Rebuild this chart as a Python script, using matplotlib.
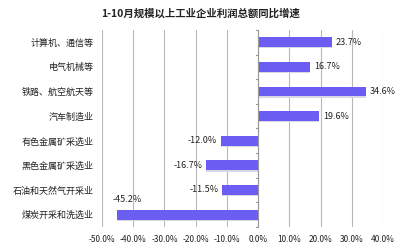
import numpy as np
import matplotlib
matplotlib.use('Agg')
import matplotlib.pyplot as plt

plt.rcParams['font.family'] = ['Noto Sans CJK SC', 'DejaVu Sans']

TITLE = '1-10月规模以上工业企业利润总额同比增速'
CATEGORIES = ['计算机、通信等', '电气机械等', '铁路、航空航天等', '汽车制造业',
              '有色金属矿采选业', '黑色金属矿采选业', '石油和天然气开采业', '煤炭开采和洗选业']
GROWTH = [23.7, 16.7, 34.6, 19.6, -12.0, -16.7, -11.5, -45.2]
XTICKS = [-50, -40, -30, -20, -10, 0, 10, 20, 30, 40]

BAR_COLOR = '#6b5cf2'

fig = plt.figure(figsize=(4.0, 2.48), dpi=100)
ax = fig.add_axes([0.255, 0.085, 0.7025, 0.794])

y = np.arange(len(CATEGORIES))
# faint shadow under bars
ax.barh(y + 0.04, GROWTH, height=0.42, color='#d8d8e4', zorder=2)
ax.barh(y, GROWTH, height=0.4, color=BAR_COLOR, zorder=3)

for yi, v in zip(y, GROWTH):
    txt = f'{v:.1f}%'
    if v >= 0:
        ax.text(v + 1.2, yi, txt, ha='left', va='center', fontsize=6.5, color='#222222')
    elif v < -40:
        ax.text(v - 1.5, yi - 0.42, txt, ha='left', va='bottom', fontsize=6.5, color='#222222')
    else:
        ax.text(v - 1.2, yi, txt, ha='right', va='center', fontsize=6.5, color='#222222')

ax.set_xlim(-50, 40)
ax.set_ylim(len(CATEGORIES) - 0.5, -0.5)
ax.set_xticks(XTICKS)
ax.set_xticklabels([f'{t:.1f}%' for t in XTICKS], fontsize=6)
ax.set_yticks(y)
ax.set_yticklabels(CATEGORIES, fontsize=6.5)
ax.tick_params(axis='both', length=0, pad=6, colors='#222222')

ax.grid(axis='x', color='#b8b8b8', lw=0.8, zorder=0)
for s in ax.spines.values():
    s.set_visible(False)
ax.axvline(0, color='#999999', lw=0.8, zorder=4)
for b in np.arange(-0.5, len(CATEGORIES), 1.0):
    ax.plot([-0.8, 0], [b, b], color='#999999', lw=0.8, zorder=4, clip_on=False)

fig.text(0.5, 0.945, TITLE, ha='center', va='center', fontsize=7.5, fontweight='bold', color='#222222')

fig.savefig('out.png', dpi=100)
